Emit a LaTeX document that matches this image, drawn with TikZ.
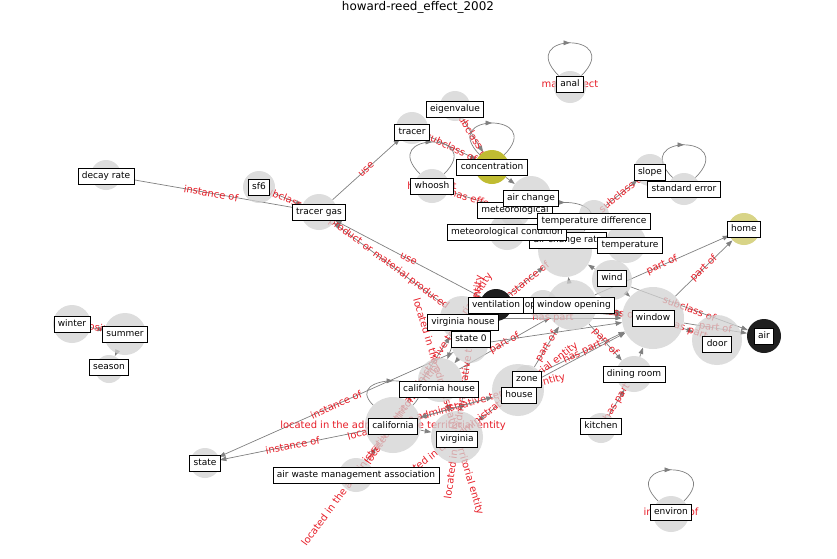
\documentclass[tikz,border=0pt]{standalone}
\usepackage{fontspec}
\setmainfont{DejaVu Sans}
\usetikzlibrary{arrows.meta,decorations.markings}
\definecolor{edgegray}{RGB}{128,128,128}
\definecolor{lblred}{RGB}{230,30,40}
\definecolor{blobgray}{RGB}{210,210,210}
\definecolor{oliveA}{RGB}{192,188,50}
\definecolor{oliveB}{RGB}{216,212,135}
\definecolor{blobdark}{RGB}{30,30,30}
\pgfdeclarelayer{edges}
\pgfdeclarelayer{blobs}
\pgfsetlayers{edges,blobs,main}

\begin{document}
\begin{tikzpicture}[x=0.03cm, y=-0.03cm,
  ent/.style={draw, fill=white, line width=0.7pt,
              font=\fontsize{7.7}{9}\selectfont,
              inner xsep=3.3pt, inner ysep=3pt,
              text height=5.9pt, text depth=1.8pt},
  blob/.style={circle, fill=blobgray, fill opacity=0.75, inner sep=0pt},
  dark/.style={blob, fill=blobdark, fill opacity=1},
  rel/.style={-{Triangle[length=5.5pt,width=4pt]}, draw=edgegray, line width=0.6pt},
  loopy/.style={draw=edgegray, line width=0.6pt, postaction={decorate},
                decoration={markings, mark=at position 0.5 with
                {\arrow{Triangle[length=5.5pt,width=4pt]}}}},
  lbl/.style={text=lblred, font=\fontsize{8.5}{10}\selectfont, inner sep=0.5pt},
  elbl/.style={lbl, midway, sloped}
]
  \useasboundingbox (0,0) rectangle (837,559);
  \node[font=\fontsize{10.2}{12}\selectfont] (title) at (418,7) {howard-reed\_effect\_2002};

  \begin{pgfonlayer}{blobs}
    \node[blob, minimum size=0.96cm] (c-anal) at (570,87) {};
    \node[blob, minimum size=1.08cm] (c-environ) at (671,514) {};
    \node[blob, minimum size=0.9cm] (c-eigen) at (455,106) {};
    \node[blob, minimum size=0.96cm] (c-tracer) at (412,128) {};
    \node[blob, fill=oliveA, fill opacity=1, minimum size=1.02cm] (c-conc) at (492,167) {};
    \node[blob, minimum size=1.02cm] (c-whoosh) at (432,186) {};
    \node[blob, minimum size=1.2cm] (c-airch) at (531,196) {};
    \node[blob, minimum size=0.9cm] (c-meteo) at (515,212) {};
    \node[blob, minimum size=1.08cm] (c-metcond) at (507,232) {};
    \node[blob, minimum size=1.62cm] (c-acr) at (565,250) {};
    \node[blob, minimum size=0.9cm] (c-tdiff) at (594,215) {};
    \node[blob, minimum size=1.2cm] (c-temp) at (626,243) {};
    \node[blob, minimum size=0.96cm] (c-slope) at (650,170) {};
    \node[blob, minimum size=0.96cm] (c-stderr) at (684,189) {};
    \node[blob, fill=oliveB, fill opacity=1, minimum size=0.96cm] (c-home) at (744,229) {};
    \node[blob, minimum size=1.2cm] (c-wind) at (612,280) {};
    \node[blob, minimum size=0.9cm] (c-open) at (543,305) {};
    \node[blob, minimum size=1.5cm] (c-wopen) at (572,305) {};
    \node[blob, minimum size=1.32cm] (c-vahouse) at (462,318) {};
    \node[dark, minimum size=0.96cm] (c-vent) at (496,305) {};
    \node[blob, minimum size=1.08cm] (c-state0) at (470,345) {};
    \node[blob, minimum size=1.86cm] (c-window) at (653,318) {};
    \node[blob, minimum size=1.5cm] (c-door) at (717,340) {};
    \node[dark, minimum size=1.02cm] (c-air) at (764,336) {};
    \node[blob, minimum size=1.08cm] (c-dining) at (634,374) {};
    \node[blob, minimum size=0.9cm] (c-kitchen) at (601,428) {};
    \node[blob, minimum size=0.84cm] (c-zone) at (527,379) {};
    \node[blob, minimum size=1.56cm] (c-house) at (518,390) {};
    \node[blob, minimum size=1.32cm] (c-cahouse) at (440,380) {};
    \node[blob, minimum size=1.68cm] (c-cal) at (393,425) {};
    \node[blob, minimum size=1.56cm] (c-va) at (457,437) {};
    \node[blob, minimum size=0.9cm] (c-state) at (205,463) {};
    \node[blob, minimum size=1.02cm] (c-awma) at (356,475) {};
    \node[blob, minimum size=0.9cm] (c-decay) at (106,175) {};
    \node[blob, minimum size=0.96cm] (c-sf6) at (259,187) {};
    \node[blob, minimum size=1.08cm] (c-tgas) at (319,212) {};
    \node[blob, minimum size=1.14cm] (c-winter) at (72,324) {};
    \node[blob, minimum size=1.26cm] (c-summer) at (125,334) {};
    \node[blob, minimum size=0.84cm] (c-season) at (109,369) {};
  \end{pgfonlayer}

  \node[ent] (anal) at (570,84) {anal};
  \node[ent] (environ) at (671,512) {environ};
  \node[ent] (eigen) at (455,109) {eigenvalue};
  \node[ent] (tracer) at (412,132) {tracer};
  \node[ent] (conc) at (492,167) {concentration};
  \node[ent] (whoosh) at (432,186) {whoosh};
  \node[ent] (meteo) at (515,210) {meteorological};
  \node[ent] (acr) at (568,240) {air change rate};
  \node[ent] (airch) at (531,198) {air change};
  \node[ent] (metcond) at (507,232) {meteorological condition};
  \node[ent] (tdiff) at (594,221) {temperature difference};
  \node[ent] (temp) at (630,245) {temperature};
  \node[ent] (slope) at (650,172) {slope};
  \node[ent] (stderr) at (684,189) {standard error};
  \node[ent] (home) at (744,229) {home};
  \node[ent] (wind) at (612,278) {wind};
  \node[ent] (open) at (543,305) {opening};
  \node[ent] (vent) at (496,305) {ventilation};
  \node[ent] (wopen) at (574,305) {window opening};
  \node[ent] (vahouse) at (463,322) {virginia house};
  \node[ent] (state0) at (471,339) {state 0};
  \node[ent] (window) at (653,318) {window};
  \node[ent] (door) at (717,344) {door};
  \node[ent] (air) at (764,336) {air};
  \node[ent] (dining) at (634,374) {dining room};
  \node[ent] (kitchen) at (601,426) {kitchen};
  \node[ent] (zone) at (527,379) {zone};
  \node[ent] (house) at (519,395) {house};
  \node[ent] (cahouse) at (439,389) {california house};
  \node[ent] (cal) at (393,426) {california};
  \node[ent] (va) at (457,439) {virginia};
  \node[ent] (state) at (205,463) {state};
  \node[ent] (awma) at (356,475) {air waste management association};
  \node[ent] (decay) at (106,176) {decay rate};
  \node[ent] (sf6) at (259,187) {sf6};
  \node[ent] (tgas) at (319,212) {tracer gas};
  \node[ent] (winter) at (72,324) {winter};
  \node[ent] (summer) at (125,334) {summer};
  \node[ent] (season) at (109,367) {season};

  \begin{pgfonlayer}{edges}
    \draw[rel] (c-decay) -- node[elbl] {instance of} (c-tgas);
    \draw[rel] (c-sf6) -- node[elbl] {subclass of} (c-tgas);
    \draw[rel] (c-tgas) -- node[elbl] {use} (c-tracer);
    \draw[rel] (c-vent) -- node[elbl] {use} (c-tgas);
    \draw[rel] (c-vahouse) -- node[elbl] {product or material produced} (c-tgas);
    \draw[rel] (c-eigen) -- node[elbl] {subclass of} (c-conc);
    \draw[rel] (c-tracer) -- node[elbl] {subclass of} (c-conc);
    \draw[rel] (c-conc) -- (c-airch);
    \draw[rel] (c-whoosh) -- node[elbl] {has effect} (c-meteo);
    \draw[rel] (c-tdiff) -- node[elbl] {subclass of} (c-slope);
    \draw[rel] (c-wopen) -- node[elbl] {part of} (c-home);
    \draw[rel] (c-window) -- node[elbl] {part of} (c-home);
    \draw[rel] (c-wind) -- node[elbl] {subclass of} (c-air);
    \draw[rel] (c-window) -- node[elbl] {part of} (c-air);
    \draw[rel] (c-window) -- node[elbl] {has part} (c-door);
    \draw[rel] (c-wind) -- (c-acr);
    \draw[rel] (c-wind) -- (c-window);
    \draw[rel] (c-wopen) -- node[elbl] {part of} (c-dining);
    \draw[rel] (c-kitchen) -- node[elbl] {has part} (c-dining);
    \draw[rel] (c-dining) -- (c-window);
    \draw[rel] (c-zone) -- node[elbl] {has part} (c-window);
    \draw[rel] (c-house) -- (c-window);
    \draw[rel] (c-cahouse) -- node[elbl] {part of} (c-wopen);
    \draw[rel] (c-zone) -- node[elbl] {part of} (c-wopen);
    \draw[rel] (c-vahouse) -- node[elbl] {has part} (c-window);
    \draw[rel] (c-vent) -- (c-window);
    \draw[rel] (c-state0) -- (c-window);
    \draw[rel] (c-wopen) -- node[elbl] {subclass of} (c-window);
    \draw[rel] (c-vent) -- node[elbl] {instance of} (c-acr);
    \draw[rel] (c-wopen) -- (c-acr);
    \draw[rel] (c-state0) -- node[elbl] {instance of} (c-state);
    \draw[rel] (c-cal) -- node[elbl] {instance of} (c-state);
    \draw[rel] (c-awma) -- node[elbl] {located in the administrative territorial entity} (c-cal);
    \draw[rel] (c-cahouse) -- node[elbl] {located in the administrative territorial entity} (c-va);
    \draw[rel] (c-state0) -- node[elbl] {located in the administrative territorial entity} (c-va);
    \draw[rel] (c-cal) -- node[elbl] {located in the administrative territorial entity} (c-house);
    \draw[rel] (c-house) -- node[elbl] {located in the administrative territorial entity} (c-va);
    \draw[rel] (c-cal) -- node[elbl] {located in the administrative territorial entity} (c-vahouse);
    \draw[rel] (c-vahouse) -- (c-cahouse);
    \draw[rel] (c-state0) -- (c-cahouse);
    \draw[rel] (c-house) -- (c-cal);
    \draw[rel] (c-cal) -- (c-va);
    \draw[rel] (c-winter) -- node[elbl] {opposite of} (c-summer);
    \draw[rel] (c-summer) -- (c-season);

    \draw[loopy] (c-anal) to[out=135, in=45, distance=1.85cm] (c-anal);
    \node[lbl] at (anal) {main effect};
    \draw[loopy] (c-environ) to[out=135, in=45, distance=1.77cm] (c-environ);
    \node[lbl] at (environ) {instance of};
    \draw[loopy] (c-conc) to[out=135, in=45, distance=1.8cm] (c-conc);
    \draw[loopy] (c-whoosh) to[out=135, in=45, distance=1.8cm] (c-whoosh);
    \node[lbl] at (whoosh) {has effect};
    \draw[loopy] (c-acr) to[out=135, in=45, distance=1.6cm] (c-acr);
    \draw[loopy] (c-stderr) to[out=135, in=45, distance=1.85cm] (c-stderr);
    \draw[loopy] (c-cal) to[out=135, in=45, distance=1.37cm] (c-cal);
    \node[lbl] at (cal) {located in the administrative territorial entity};
  \end{pgfonlayer}
\end{tikzpicture}
\end{document}
